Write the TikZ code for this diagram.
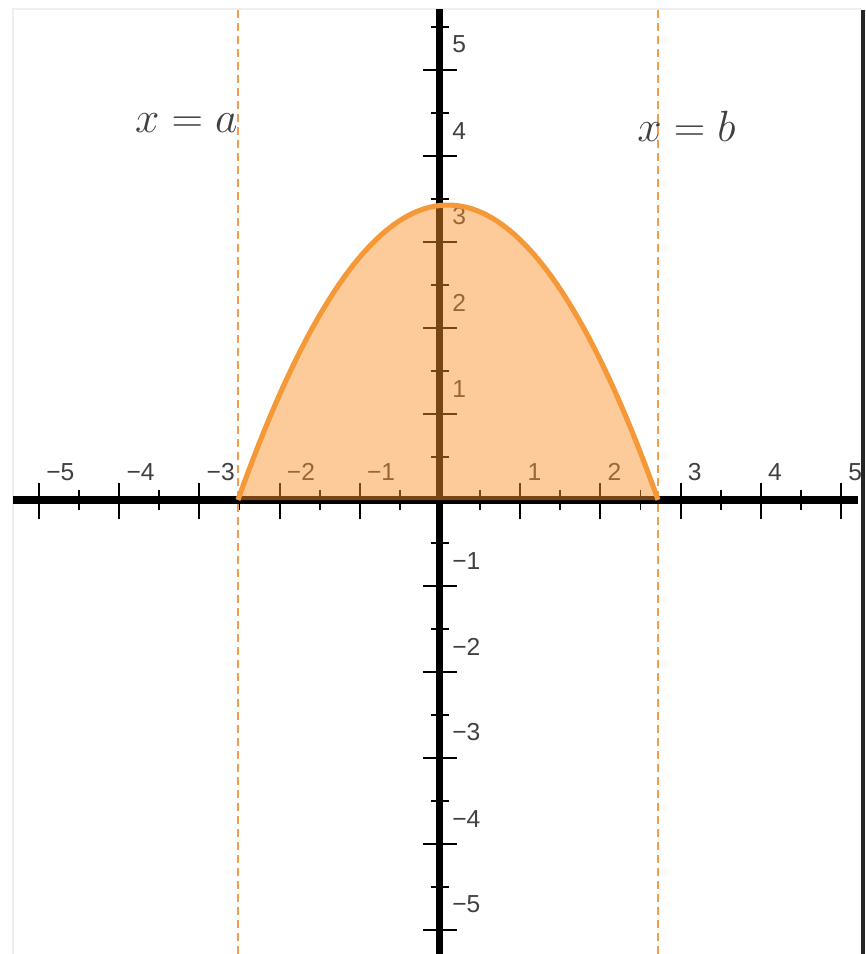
\documentclass[tikz,border=0pt]{standalone}
\usepackage{fontspec}
\setsansfont{Liberation Sans}
\usepackage{tikz}
\usetikzlibrary{positioning}
\definecolor{curveorange}{RGB}{244, 152, 56}
\definecolor{areaorange}{RGB}{250, 146, 42}
\definecolor{guideorange}{RGB}{238, 158, 76}
\definecolor{labelgray}{RGB}{64, 64, 64}
\definecolor{framegray}{RGB}{242, 236, 236}
\newcommand{\ticknum}[1]{\ifnum#1<0 \char"2212\relax\number\numexpr-#1\relax\else#1\fi}

\begin{document}
\begin{tikzpicture}[x=1.604cm, y=1.72cm,
    axisline/.style={line width=4pt, black},
    majortick/.style={line width=1.1pt, black},
    minortick/.style={line width=1.1pt, black},
    guideline/.style={guideorange, line width=0.8pt, dash pattern=on 0.16cm off 0.1cm},
    ticklabel/.style={inner sep=0pt, anchor=south west, text=labelgray, font=\sffamily\fontsize{14}{16}\selectfont},
    eqlabel/.style={inner sep=0pt, text=labelgray, font=\fontsize{24}{28}\selectfont}]
    \useasboundingbox (-5.486,-5.279) rectangle (5.312,5.814);
    % screenshot frame
    \draw[framegray, line width=0.8pt] (-5.324,-5.279) -- (-5.324,5.71) -- (5.25,5.71);
    \draw[black!85, line width=2pt] (5.274,5.70) -- (5.274,-5.279);
    % limits x=a and x=b
    \coordinate (a) at (-2.519,0);
    \coordinate (b) at (2.719,0);
    \draw[guideline] (a |- 0,5.70) -- (a |- 0,-5.279);
    \draw[guideline] (b |- 0,5.70) -- (b |- 0,-5.279);
    % axes
    \draw[axisline] (-5.324,0) -- (5.212,0);
    \draw[axisline] (0,-5.279) -- (0,5.709);
    \foreach \i in {-5,...,5} {
        \draw[majortick] (\i,0) ++(0,-0.38cm) -- ++(0,0.72cm);
        \draw[majortick] (0,\i) ++(-0.34cm,0) -- ++(0.68cm,0);
    }
    \foreach \i in {-4.5,-3.5,...,4.5}
        \draw[minortick] (\i,0) ++(0,-0.2cm) -- ++(0,0.4cm);
    \foreach \i in {-4.5,-3.5,...,5.5}
        \draw[minortick] (0,\i) ++(-0.18cm,0) -- ++(0.36cm,0);
    \foreach \i in {-5,-4,-3,-2,-1,1,2,3,4,5} {
        \node[ticklabel, xshift=0.14cm, yshift=0.38cm] (xl\i) at (\i,0) {\ticknum{\i}};
        \node[ticklabel, xshift=0.24cm, yshift=0.33cm] (yl\i) at (0,\i) {\ticknum{\i}};
    }
    % area under the curve
    \fill[areaorange, opacity=0.48] (a) -- plot[domain=-2.519:2.719, samples=80] (\x,{3.43-0.5*(\x-0.1)^2}) -- (b) -- cycle;
    \draw[curveorange, line width=2.9pt] plot[domain=-2.519:2.719, samples=80] (\x,{3.43-0.5*(\x-0.1)^2});
    % labels
    \node[eqlabel, anchor=base east] (eqa) at (-2.519,4.279) {$x=a$};
    \node[eqlabel, anchor=base west] (eqb) at (2.456,4.163) {$x=b$};
\end{tikzpicture}
\end{document}
